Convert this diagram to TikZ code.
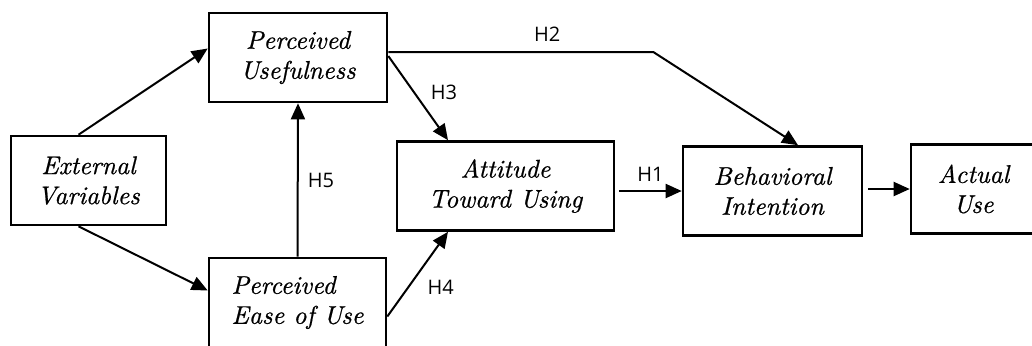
\documentclass[tikz,border=0pt]{standalone}
\usepackage{fontspec}
\newfontfamily\hypfont{Open Sans}
\newfontfamily\constructfont{lmroman10-italic.otf}[FakeBold=0.7]
\usetikzlibrary{arrows.meta}

\begin{document}
\begin{tikzpicture}[
    x=0.5pt, y=-0.5pt,
    construct/.style={rectangle, draw=black, line width=1.3pt, inner sep=0pt, minimum height=44.5pt, align=center, font=\constructfont\fontsize{12.8}{15}\selectfont},
    link/.style={-{Triangle[length=8pt,width=7pt]}, line width=1pt},
    hyp/.style={inner sep=0pt, font=\hypfont\fontsize{10}{12}\selectfont}
]
    \clip (0,0) rectangle (1032,345);

    \node[construct, minimum width=77.5pt] at (88.5,180.5) (ev) {External\\Variables};
    \node[construct, minimum width=89pt] at (298,57.5) (pu) {Perceived\\Usefulness};
    \node[construct, minimum width=88.5pt, align=left] at (297.5,302.5) (peu) {Perceived\\Ease of Use};
    \node[construct, minimum width=108.5pt] at (505.5,186) (att) {Attitude\\Toward Using};
    \node[construct, minimum width=89.5pt] at (772.5,191) (bi) {Behavioral\\Intention};
    \node[construct, minimum width=62.5pt] at (973.5,189) (au) {Actual\\Use};

    \draw[link] ([xshift=-5pt]ev.north) -- ([yshift=4.5pt]pu.west);
    \draw[link] ([xshift=-5pt]ev.south) -- ([yshift=6pt]peu.west);
    \draw[link] (peu.north) -- node[hyp, right=4.5pt] {H5} (pu.south);
    \draw[link] ([yshift=0.75pt]pu.east) -- node[hyp, pos=0.43, right=8pt] {H3} ([xshift=-28.75pt]att.north);
    \draw[link] ([yshift=-7pt]peu.east) -- node[hyp, pos=0.35, right=9pt] {H4} ([xshift=-28.75pt]att.south);
    \draw[link] ([yshift=2.75pt]pu.east) -- node[hyp, pos=0.6, above=5pt] {H2} ++(265,0) -- ([xshift=12.75pt]bi.north);
    \draw[link] ([xshift=2pt]att.east |- bi.west) -- node[hyp, above=4.5pt] {H1} (bi.west);
    \draw[link] ([xshift=2.5pt]bi.east |- au.west) -- (au.west);
\end{tikzpicture}
\end{document}
